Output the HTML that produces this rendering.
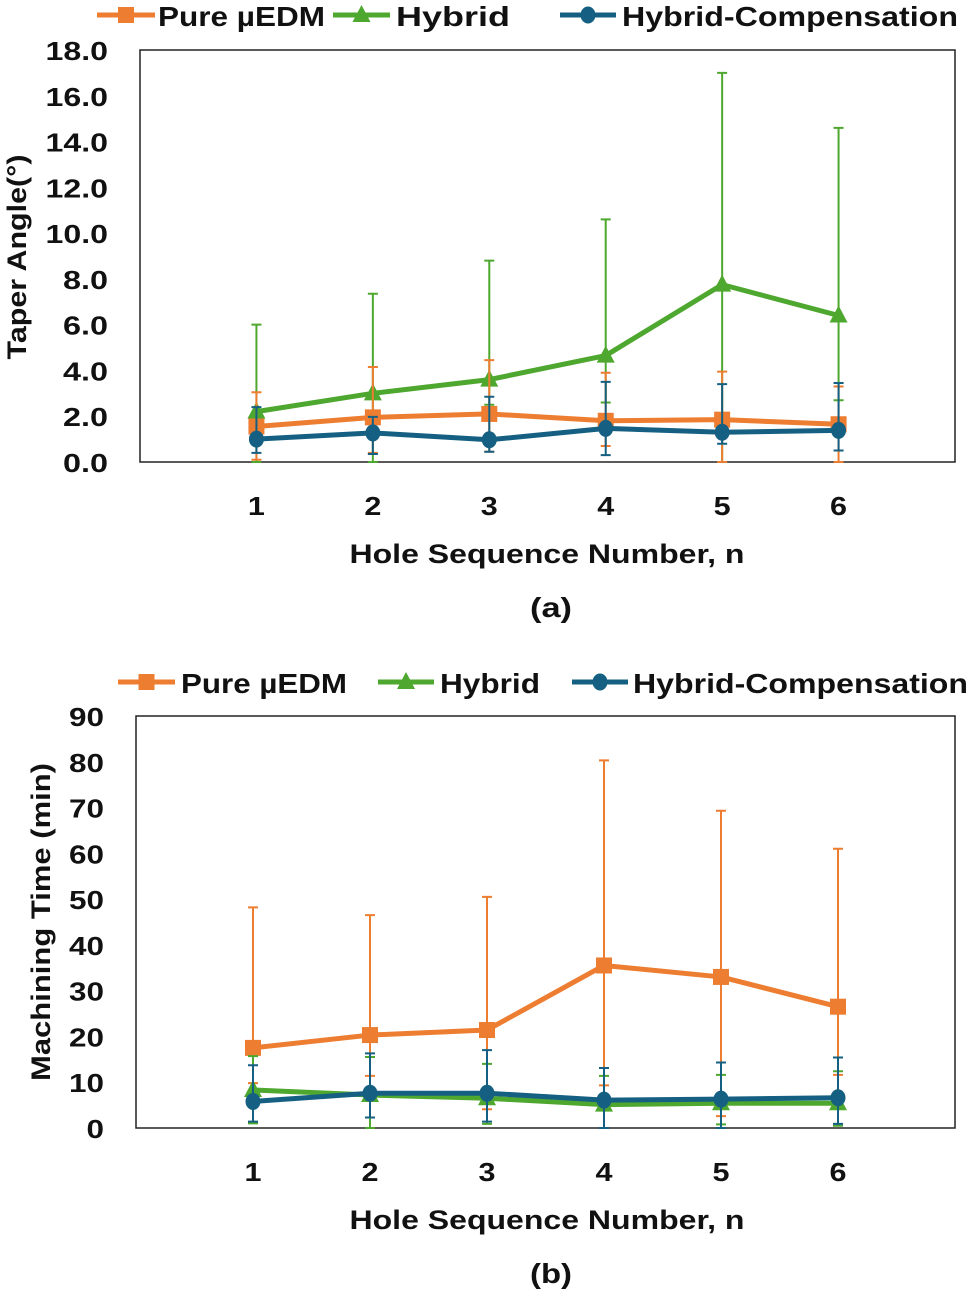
<!DOCTYPE html>
<html><head><meta charset="utf-8"><style>
body{margin:0;background:#fff}
svg text{font-family:"Liberation Sans",sans-serif;font-weight:bold;fill:#111}
</style></head><body>
<svg id="svg" width="972" height="1295" xmlns="http://www.w3.org/2000/svg"></svg>
<script>
const holes=["1","2","3","4","5","6"];
// Chart (a) taper angle
const aPure=[1.55,1.95,2.1,1.8,1.85,1.65];
const aPurePlus=[1.5,2.2,2.35,2.1,2.1,1.65];
const aPureMinus=[1.45,1.55,1.65,1.1,1.85,1.65];
const aHyb=[2.2,3.0,3.6,4.65,7.75,6.4];
const aHybPlus=[3.8,4.35,5.2,5.95,9.25,8.2];
const aHybMinus=[2.2,3.0,1.1,2.05,7.75,3.7];
const aComp=[1.0,1.27,0.97,1.47,1.3,1.38];
const aCompPlus=[1.4,0.7,1.88,2.03,2.1,2.07];
const aCompMinus=[0.6,0.92,0.52,1.17,0.5,0.88];
const aTicks=["0.0","2.0","4.0","6.0","8.0","10.0","12.0","14.0","16.0","18.0"];
// Chart (b) machining time
const bPure=[17.5,20.3,21.4,35.5,33,26.5];
const bPurePlus=[30.7,26.2,29.1,44.8,36.3,34.5];
const bPureMinus=[7.7,8.9,17.3,26.2,30.4,14.9];
const bHyb=[8.3,7.2,6.5,5.1,5.4,5.4];
const bHybPlus=[7.4,8.3,7.5,6.3,6.2,7.0];
const bHybMinus=[7.3,7.2,5.6,5.1,4.6,4.9];
const bComp=[5.8,7.6,7.6,6.1,6.3,6.6];
const bCompPlus=[7.9,8.7,9.4,7.0,8.0,8.8];
const bCompMinus=[4.4,5.3,6.2,6.1,6.3,5.7];
const bTicks=["0","10","20","30","40","50","60","70","80","90"];

const NS="http://www.w3.org/2000/svg";
const svg=document.getElementById('svg');
function el(t,a,p){const e=document.createElementNS(NS,t);for(const k in a)e.setAttribute(k,a[k]);(p||svg).appendChild(e);return e;}
const C={o:"#ED7D31",g:"#4EA72E",b:"#156082"};
function tlen(s){let w=0;for(const ch of s)w+=(ch==='.'?10:17.5);return w;}

function chart(cfg){
  const g=el('g',{});
  
  
  const {L,R,T,B,max}=cfg;
  const xs=i=>L+(i+1)*(R-L)/7;
  const ys=v=>B-Math.max(0,Math.min(max,v))/max*(B-T);
  const frame=el('rect',{x:L,y:T,width:R-L,height:B-T,fill:'none',stroke:'#222','stroke-width':1.5},g);
  
  
  cfg.ticks.forEach((t,i)=>{
    const v=i*max/(cfg.ticks.length-1);
    const tx=el('text',{x:L-cfg.tgap,y:ys(v)+10,'text-anchor':'end','font-size':26,textLength:tlen(t),lengthAdjust:'spacingAndGlyphs'},g);tx.textContent=t;
    
    
  });
  holes.forEach((h,i)=>{
    const tx=el('text',{x:xs(i),y:B+53,'text-anchor':'middle','font-size':26,textLength:17,lengthAdjust:'spacingAndGlyphs'},g);tx.textContent=h;
    
    
  });
  const xt=el('text',{x:547,y:B+101,'text-anchor':'middle','font-size':27,textLength:395,lengthAdjust:'spacingAndGlyphs'},g);xt.textContent="Hole Sequence Number, n";
  
  
  const yt=el('text',{x:0,y:0,'text-anchor':'middle','font-size':27,textLength:cfg.ylen,lengthAdjust:'spacingAndGlyphs',transform:`translate(${cfg.ytx},${cfg.yty}) rotate(-90)`},g);yt.textContent=cfg.ytitle;
  
  
  const cap=el('text',{x:551,y:B+155,'text-anchor':'middle','font-size':28,textLength:42,lengthAdjust:'spacingAndGlyphs'},g);cap.textContent=cfg.cap;
  
  
  cfg.series.forEach(s=>{
    const sg=el('g',{},g);
    
    
    s.v.forEach((v,i)=>{
      const x=xs(i),y1=ys(v+s.p[i]),y2=ys(v-s.m[i]);
      const eb=el('path',{d:`M${x} ${y1}V${y2}M${x-5} ${y1}H${x+5}M${x-5} ${y2}H${x+5}`,stroke:s.c,'stroke-width':2,fill:'none'},sg);
      
      
    });
    const ln=el('polyline',{points:s.v.map((v,i)=>xs(i)+','+ys(v)).join(' '),fill:'none',stroke:s.c,'stroke-width':5,'stroke-linejoin':'round'},sg);
    
    
    s.v.forEach((v,i)=>{
      const m=marker(s.sh,xs(i),ys(v),s.c,sg);
      
      
    });
  });
  cfg.legend.forEach(l=>{
    const lg=el('g',{},g);
    
    
    el('line',{x1:l.x1,x2:l.x2,y1:l.y,y2:l.y,stroke:l.c,'stroke-width':5},lg);
    marker(l.sh,(l.x1+l.x2)/2,l.y,l.c,lg);
    const t=el('text',{x:l.tx,y:l.y+11,'font-size':28,textLength:l.w,lengthAdjust:'spacingAndGlyphs'},lg);t.textContent=l.t;
  });
}
function marker(sh,x,y,c,p){
  if(sh==='sq')return el('rect',{x:x-8,y:y-8,width:16,height:16,fill:c},p);
  if(sh==='tri')return el('path',{d:`M${x} ${y-10}L${x+9} ${y+7}L${x-9} ${y+7}Z`,fill:c},p);
  return el('ellipse',{cx:x,cy:y,rx:7.5,ry:8.5,fill:c},p);
}
chart({name:'taper-angle-chart',L:140,R:955,T:50,B:462,max:18,ticks:aTicks,tgap:32,ytitle:"Taper Angle(°)",ytx:26,yty:257,ylen:205,cap:"(a)",
  series:[{id:'hybrid',v:aHyb,p:aHybPlus,m:aHybMinus,c:C.g,sh:'tri'},{id:'pure-uedm',v:aPure,p:aPurePlus,m:aPureMinus,c:C.o,sh:'sq'},{id:'hybrid-compensation',v:aComp,p:aCompPlus,m:aCompMinus,c:C.b,sh:'ci'}],
  legend:[{x1:97,x2:155,tx:158,w:167,y:15,c:C.o,sh:'sq',t:"Pure µEDM"},{x1:333,x2:390,tx:396,w:114,y:15,c:C.g,sh:'tri',t:"Hybrid"},{x1:560,x2:616,tx:622,w:336,y:15,c:C.b,sh:'ci',t:"Hybrid-Compensation"}]});
chart({name:'machining-time-chart',L:136,R:955,T:716,B:1128,max:90,ticks:bTicks,tgap:32,ytitle:"Machining Time (min)",ytx:50,yty:922,ylen:318,cap:"(b)",
  series:[{id:'pure-uedm',v:bPure,p:bPurePlus,m:bPureMinus,c:C.o,sh:'sq'},{id:'hybrid',v:bHyb,p:bHybPlus,m:bHybMinus,c:C.g,sh:'tri'},{id:'hybrid-compensation',v:bComp,p:bCompPlus,m:bCompMinus,c:C.b,sh:'ci'}],
  legend:[{x1:118,x2:175,tx:181,w:166,y:682,c:C.o,sh:'sq',t:"Pure µEDM"},{x1:378,x2:434,tx:440,w:100,y:682,c:C.g,sh:'tri',t:"Hybrid"},{x1:572,x2:628,tx:633,w:335,y:682,c:C.b,sh:'ci',t:"Hybrid-Compensation"}]});
</script>
</body></html>
